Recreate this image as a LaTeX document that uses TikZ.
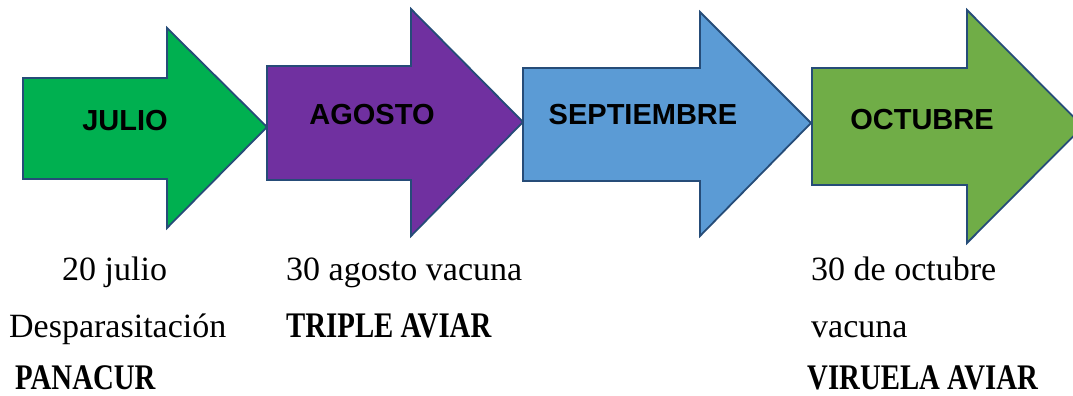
\documentclass[tikz,border=0pt]{standalone}
\usepackage{fontspec}
\setmainfont{Liberation Serif}
\newfontfamily\lblfont{Liberation Sans}
\newfontfamily\boldnarrow[FakeStretch=0.8,UprightFont=* Bold]{Liberation Serif}
\definecolor{edge}{RGB}{38,76,120}
\definecolor{cjul}{RGB}{0,176,80}
\definecolor{cago}{RGB}{112,48,160}
\definecolor{csep}{RGB}{91,155,213}
\definecolor{coct}{RGB}{112,173,71}
\tikzset{
  arrowbox/.style={draw=edge, line width=1.8pt, line join=miter},
  month/.style={font=\lblfont\bfseries\fontsize{29}{33}\selectfont, anchor=base, inner sep=0pt},
  note/.style={font=\fontsize{34}{38}\selectfont, anchor=base west, inner sep=0pt},
  notebold/.style={font=\boldnarrow\fontsize{36}{40}\selectfont, anchor=base west, inner sep=0pt}
}
\begin{document}
\begin{tikzpicture}[x=1pt,y=-1pt]
\useasboundingbox (0,0) rectangle (1073,396);
\clip (0,0) rectangle (1073,396);
% arrows
\path[arrowbox, fill=cjul] (23,78) -- (167,78) -- (167,28) -- (267,127) -- (167,228) -- (167,179) -- (23,179) -- cycle;
\path[arrowbox, fill=cago] (267,66) -- (411,66) -- (411,9) -- (523,122) -- (411,236) -- (411,180) -- (267,180) -- cycle;
\path[arrowbox, fill=csep] (523,68) -- (700,68) -- (700,12) -- (811,123) -- (700,236) -- (700,181) -- (523,181) -- cycle;
\path[arrowbox, fill=coct] (812,68) -- (967,68) -- (967,10) -- (1083,126.5) -- (967,243) -- (967,185) -- (812,185) -- cycle;
% month labels
\node[month] (jul) at (125,130) {JULIO};
\node[month] (ago) at (372,124) {AGOSTO};
\node[month] (sep) at (643,124) {SEPTIEMBRE};
\node[month] (oct) at (922,129) {OCTUBRE};
% notes
\node[note] (n1) at (62,280) {20 julio};
\node[note] (n2) at (9,337) {Desparasitación};
\node[notebold] (n3) at (15,389) {PANACUR};
\node[note] (n4) at (286,280) {30 agosto vacuna};
\node[notebold] (n5) at (286,337) {TRIPLE AVIAR};
\node[note] (n6) at (811,280) {30 de octubre};
\node[note] (n7) at (811,337) {vacuna};
\node[notebold] (n8) at (807,389) {VIRUELA AVIAR};
\end{tikzpicture}
\end{document}
